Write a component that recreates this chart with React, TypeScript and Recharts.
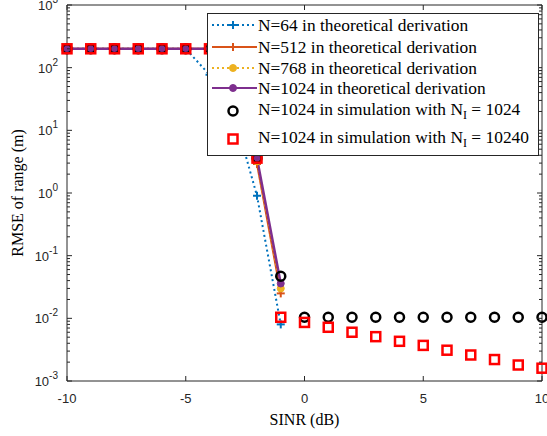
import { ComposedChart, Line, XAxis, YAxis, Legend } from "recharts";

// #region Sample data

const snr = [-10, -9, -8, -7, -6, -5, -4, -3, -2, -1, 0, 1, 2, 3, 4, 5, 6, 7, 8, 9, 10];

const n64 = [200, 200, 200, 200, 200, 200, 77, 20, 0.9, 0.008, null, null, null, null, null, null, null, null, null, null, null];
const n512 = [200, 200, 200, 200, 200, 200, 200, 200, 2.9, 0.025, null, null, null, null, null, null, null, null, null, null, null];
const n768 = [200, 200, 200, 200, 200, 200, 200, 200, 3.2, 0.03, null, null, null, null, null, null, null, null, null, null, null];
const n1024 = [200, 200, 200, 200, 200, 200, 200, 200, 3.6, 0.036, null, null, null, null, null, null, null, null, null, null, null];
const simNi1024 = [200, 200, 200, 200, 200, 200, 200, 200, 3.6, 0.047, 0.0104, 0.0104, 0.0104, 0.0104, 0.0104, 0.0104, 0.0104, 0.0104, 0.0104, 0.0104, 0.0104];
const simNi10240 = [200, 200, 200, 200, 200, 200, 200, 200, 3.6, 0.0104, 0.0086, 0.0072, 0.006, 0.0051, 0.0043, 0.0037, 0.0031, 0.0026, 0.0022, 0.0018, 0.0016];

const xTicks = [-10, -5, 0, 5, 10];
const decades = [-3, -2, -1, 0, 1, 2, 3];

// #endregion

const rows = snr.map((x, i) => ({
    x,
    n64: n64[i],
    n512: n512[i],
    n768: n768[i],
    n1024: n1024[i],
    sim1: simNi1024[i],
    sim2: simNi10240[i],
}));

// major + minor log ticks
const yTicks: number[] = [];
decades.forEach((d) => {
    if (d === 3) {
        yTicks.push(1000);
        return;
    }
    for (let m = 1; m <= 9; m++) yTicks.push(m * Math.pow(10, d));
});

const BLUE = "#0072BD";
const ORANGE = "#D95319";
const YELLOW = "#EDB120";
const PURPLE = "#7E2F8E";
const AXIS = "#262626";
const SANS = "'Liberation Sans', Arial, sans-serif";
const SERIF = "'Liberation Serif', 'Times New Roman', serif";

const isDecade = (v: number) => Math.abs(Math.log10(v) - Math.round(Math.log10(v))) < 1e-9;

const Plus = ({ cx, cy, color }: { cx: number; cy: number; color: string }) => (
    <g>
        <line x1={cx - 4} x2={cx + 4} y1={cy} y2={cy} stroke={color} strokeWidth={2} />
        <line x1={cx} x2={cx} y1={cy - 4} y2={cy + 4} stroke={color} strokeWidth={2} />
    </g>
);

const Dot = ({ cx, cy, color }: { cx: number; cy: number; color: string }) => (
    <circle cx={cx} cy={cy} r={3.5} fill={color} stroke={color} strokeWidth={1} />
);

const Ring = ({ cx, cy }: { cx: number; cy: number }) => (
    <circle cx={cx} cy={cy} r={4.5} fill="none" stroke="#000" strokeWidth={2.5} />
);

const Square = ({ cx, cy }: { cx: number; cy: number }) => (
    <rect x={cx - 4.5} y={cy - 4.5} width={9} height={9} fill="none" stroke="#FF0000" strokeWidth={2.5} />
);

const dotOf = (kind: string, color: string) => (p: any) => {
    if (p.cx == null || p.cy == null || p.value == null) return <g key={p.index} />;
    if (kind === "plus") return <Plus key={p.index} cx={p.cx} cy={p.cy} color={color} />;
    if (kind === "dot") return <Dot key={p.index} cx={p.cx} cy={p.cy} color={color} />;
    if (kind === "ring") return <Ring key={p.index} cx={p.cx} cy={p.cy} />;
    return <Square key={p.index} cx={p.cx} cy={p.cy} />;
};

const LeftTick = ({ x, y, payload }: any) => {
    const v = payload.value;
    const major = isDecade(v);
    return (
        <g>
            <line x1={x} x2={x + (major ? 5 : 3)} y1={y} y2={y} stroke={AXIS} />
            {major && (
                <text x={x - 9} y={y + 5} textAnchor="end" fontFamily={SANS} fontSize={13} fill={AXIS}>
                    10
                    <tspan dy={-7} fontSize={10}>{Math.round(Math.log10(v))}</tspan>
                </text>
            )}
        </g>
    );
};

const RightTick = ({ x, y, payload }: any) => {
    const major = isDecade(payload.value);
    return <line x1={x} x2={x - (major ? 5 : 3)} y1={y} y2={y} stroke={AXIS} />;
};

const BottomTick = ({ x, y, payload }: any) => (
    <g>
        <line x1={x} x2={x} y1={y} y2={y - 5} stroke={AXIS} />
        <text x={x} y={y + 17} textAnchor="middle" dominantBaseline="central" fontFamily={SANS} fontSize={13} fill={AXIS}>
            {payload.value}
        </text>
    </g>
);

const TopTick = ({ x, y }: any) => <line x1={x} x2={x} y1={y} y2={y + 5} stroke={AXIS} />;

const legendRows = [
    { label: "N=64 in theoretical derivation", color: BLUE, dash: "2 3", kind: "plus", y: 12 },
    { label: "N=512 in theoretical derivation", color: ORANGE, dash: undefined, kind: "plus", y: 34 },
    { label: "N=768 in theoretical derivation", color: YELLOW, dash: "2 3", kind: "dot", y: 55 },
    { label: "N=1024 in theoretical derivation", color: PURPLE, dash: undefined, kind: "dot", y: 75 },
    { label: "ring", color: "#000", dash: undefined, kind: "ring", y: 96, ni: "1024" },
    { label: "square", color: "#FF0000", dash: undefined, kind: "square", y: 124, ni: "10240" },
];

const LEG_FONT = 17.4;

const LegendBox = () => (
    <svg width={332} height={143} style={{ display: "block" }}>
        <rect x={0.5} y={0.5} width={331} height={142} fill="#fff" stroke={AXIS} strokeWidth={1} />
        {legendRows.map((r) => {
            const mark = dotOf(r.kind, r.color)({ cx: 26, cy: r.ni ? r.y + 2 : r.y, value: 1, index: r.label });
            return (
                <g key={r.label}>
                    {!r.ni && (
                        <line x1={5} x2={50} y1={r.y} y2={r.y} stroke={r.color} strokeWidth={2} strokeDasharray={r.dash} />
                    )}
                    {mark}
                    {r.ni ? (
                        <text x={51} y={r.y} dominantBaseline="central" style={{ fontFamily: SERIF, fontSize: LEG_FONT }} fill="#000">
                            N=1024 in simulation with N
                            <tspan dy={6} style={{ fontSize: 12 }}>I</tspan>
                            <tspan dy={-6}> = {r.ni}</tspan>
                        </text>
                    ) : (
                        <text x={51} y={r.y} dominantBaseline="central" style={{ fontFamily: SERIF, fontSize: LEG_FONT }} fill="#000">
                            {r.label}
                        </text>
                    )}
                </g>
            );
        })}
    </svg>
);

const YTitle = ({ viewBox }: any) => {
    const cy = viewBox.y + viewBox.height / 2;
    const cx = 17;
    return (
        <text x={cx} y={cy} transform={`rotate(-90 ${cx} ${cy})`} textAnchor="middle" dominantBaseline="central" fontFamily={SERIF} fontSize={16} fill="#000">
            RMSE of range (m)
        </text>
    );
};

const XTitle = ({ viewBox }: any) => (
    <text x={viewBox.x + viewBox.width / 2} y={419} textAnchor="middle" dominantBaseline="central" fontFamily={SERIF} fontSize={16} fill="#000">
        SINR (dB)
    </text>
);

const App = () => {
    return (
        <div style={{ position: "absolute", left: 0, top: 0, background: "#fff" }}>
            <ComposedChart width={547} height={436} data={rows} margin={{ top: 0, right: 0, bottom: 0, left: 7 }}>
                <XAxis
                    xAxisId="b"
                    dataKey="x"
                    type="number"
                    domain={[-10, 10]}
                    ticks={xTicks}
                    interval={0}
                    height={55}
                    stroke={AXIS}
                    tickLine={false}
                    tickSize={0}
                    tickMargin={0}
                    tick={<BottomTick />}
                    label={<XTitle />}
                />
                <XAxis
                    xAxisId="t"
                    orientation="top"
                    dataKey="x"
                    type="number"
                    domain={[-10, 10]}
                    ticks={xTicks}
                    interval={0}
                    height={5}
                    stroke={AXIS}
                    tickLine={false}
                    tickSize={0}
                    tickMargin={0}
                    tick={<TopTick />}
                />
                <YAxis
                    yAxisId="l"
                    scale="log"
                    type="number"
                    domain={[0.001, 1000]}
                    allowDataOverflow
                    ticks={yTicks}
                    interval={0}
                    width={60}
                    stroke={AXIS}
                    tickLine={false}
                    tickSize={0}
                    tickMargin={0}
                    tick={<LeftTick />}
                    label={<YTitle />}
                />
                <YAxis
                    yAxisId="r"
                    orientation="right"
                    scale="log"
                    type="number"
                    domain={[0.001, 1000]}
                    allowDataOverflow
                    ticks={yTicks}
                    interval={0}
                    width={5}
                    stroke={AXIS}
                    tickLine={false}
                    tickSize={0}
                    tickMargin={0}
                    tick={<RightTick />}
                />
                <Legend
                    layout="vertical"
                    align="center"
                    verticalAlign="middle"
                    wrapperStyle={{ left: 207, top: 13, width: 332, height: 143 }}
                    content={<LegendBox />}
                />
                <Line xAxisId="b" yAxisId="l" dataKey="n64" stroke={BLUE} strokeWidth={2} strokeDasharray="2 3" dot={dotOf("plus", BLUE)} isAnimationActive={false} />
                <Line xAxisId="b" yAxisId="l" dataKey="n512" stroke={ORANGE} strokeWidth={2} dot={dotOf("plus", ORANGE)} isAnimationActive={false} />
                <Line xAxisId="b" yAxisId="l" dataKey="n768" stroke={YELLOW} strokeWidth={2} strokeDasharray="2 3" dot={dotOf("dot", YELLOW)} isAnimationActive={false} />
                <Line xAxisId="b" yAxisId="l" dataKey="n1024" stroke={PURPLE} strokeWidth={2.5} dot={dotOf("dot", PURPLE)} isAnimationActive={false} />
                <Line xAxisId="b" yAxisId="l" dataKey="sim1" stroke="none" dot={dotOf("ring", "#000")} isAnimationActive={false} />
                <Line xAxisId="b" yAxisId="l" dataKey="sim2" stroke="none" dot={dotOf("square", "#FF0000")} isAnimationActive={false} />
            </ComposedChart>
        </div>
    );
};

export default App;
